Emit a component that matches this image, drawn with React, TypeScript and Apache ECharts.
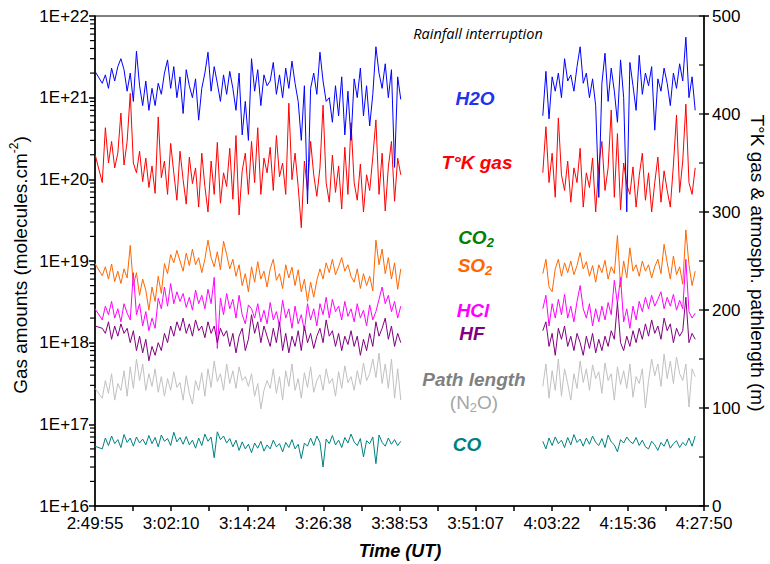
import { useEffect, useRef } from 'react';
import * as echarts from 'echarts';

// ---------- axis data ----------
const X_TICK_LABELS = ['2:49:55', '3:02:10', '3:14:24', '3:26:38', '3:38:53', '3:51:07', '4:03:22', '4:15:36', '4:27:50'];
const X_TICK_STEP = 734.375; // seconds between labelled ticks
const X_MAX = 5875; // seconds from 2:49:55 to 4:27:50
const LOG_DECADES = [16, 17, 18, 19, 20, 21];
const LOG_MINOR_MULTS = [2, 3, 4, 5, 6, 7, 8, 9];
const RIGHT_TICK_VALUES = [0, 50, 100, 150, 200, 250, 300, 350, 400, 450, 500];

// ---------- sampling (seconds after 2:49:55) ----------
const FIRST_T = 0;
const SEG1_T0 = 70;
const SEG2_T0 = 4320;
const SAMPLE_STEP = 30;
const GAP_T = 3600; // rainfall interruption

// ---------- H2O (x 1e21 molecules/cm2) ----------
const H2O_UNIT = 1e21;
const h2oFirst = 2.1;
const h2oSeg1 = [
  1.5, 1.9, 1.3, 2.3, 1.6, 2.4, 3.0, 2.2, 1.2, 2.0, 0.9, 3.7, 1.4, 0.8, 1.6, 0.7, 1.3, 0.8, 1.5, 1.1,
  2.0, 2.9, 1.3, 2.4, 1.0, 1.8, 0.64, 2.2, 1.4, 1.0, 1.7, 0.53, 1.3, 2.0, 3.6, 1.2, 2.4, 1.5, 0.9, 1.9,
  1.1, 2.1, 1.3, 0.7, 2.0, 0.35, 0.9, 0.3,
  3.0, 1.2, 2.2, 0.8, 1.9, 1.4,
  1.6, 2.7, 1.1, 1.9, 1.0, 2.3, 1.3, 2.8, 1.5, 0.9,
  0.3, 1.4, 0.05,
  1.3, 2.0, 1.1, 3.6, 1.6, 0.9,
  1.0, 0.5, 1.4, 0.6, 1.8, 0.35, 1.2, 0.3,
  1.7, 1.0, 2.3, 0.6, 1.4, 0.45, 1.1,
  4.2,
  2.0, 1.3, 2.6, 1.0, 2.2, 0.14, 1.8, 0.95,
];
const h2oSeg2 = [
  0.6, 2.1, 0.55,
  1.8, 1.2, 2.0, 1.0, 3.0, 1.6,
  1.9, 1.2, 2.4, 4.2, 1.5, 2.0,
  1.0, 1.7, 0.8, 0.06,
  1.5, 3.5, 0.9, 2.3, 1.2, 0.5, 2.9, 1.0, 0.04,
  2.7, 1.4, 0.7, 3.3, 1.1,
  2.0, 1.4, 2.4, 0.4, 1.7, 1.2, 2.3, 1.5, 0.8, 2.0, 1.3,
  2.6, 1.6, 5.5, 1.0, 1.8, 0.7,
];

// ---------- T°K gas (K, right axis) ----------
const tgasFirst = 359;
const tgasSeg1 = [
  330, 386, 350, 372, 345, 360, 401,
  348, 372, 421, 350,
  340, 362, 331, 355, 325, 347, 319, 397, 335,
  352, 318, 370, 340, 312, 362, 333, 308, 356, 329,
  345, 305, 360, 326, 300, 352, 318, 371, 309, 340,
  326, 365, 313, 378, 297, 342, 360, 318,
  372, 330, 386, 318, 355, 340,
  366, 322, 378, 336, 350, 318, 411, 333, 360, 326,
  284,
  352, 322, 372, 338, 316, 345, 409,
  330, 310, 358, 320, 347, 303, 366, 318, 391,
  330, 312, 349, 300, 338, 322, 356,
  394,
  318, 360, 301, 346, 372, 311, 355, 338,
];
const tgasSeg2 = [
  340, 387, 330, 360, 315, 396, 338, 322, 352, 310, 345, 330, 365, 305, 340, 325, 355, 300, 348,
  372, 322, 345, 404, 315, 380, 302, 350, 328,
  318, 346, 305, 337, 360, 312, 340, 300, 330, 356, 310, 342, 322, 305, 348,
  399, 320, 352, 410, 330, 318, 345,
];

// ---------- SO2 (x 1e18) ----------
const SO2_UNIT = 1e18;
const so2First = 9.3;
const so2Seg1 = [
  6.6, 8.5, 6.0, 9.2, 5.6, 7.5, 5.3, 8.0,
  6.2, 15.5,
  5.0, 7.2, 3.8, 6.0, 4.4, 2.5,
  4.8, 3.2, 6.5, 4.0,
  9.3, 7.0, 12.0, 9.5, 13.5,
  10.0, 7.5, 12.5, 8.8, 14.0, 9.0, 11.0, 7.2, 10.5,
  18.0, 11.0, 8.5, 13.0, 7.8, 17.5,
  12.0, 8.0, 10.5, 6.5, 9.0, 5.0, 7.0, 4.2,
  8.5, 5.5, 9.8, 6.0,
  7.5, 4.8, 8.0, 10.5, 5.8, 7.0, 4.6, 9.0, 6.2, 8.4, 5.0, 7.8,
  4.2, 6.0, 3.2, 5.5, 3.6, 5.8,
  8.0, 6.0, 9.5, 7.2, 10.5, 6.8, 8.5, 11.0, 7.5, 9.0, 6.5,
  5.5, 8.0, 4.6, 7.0, 5.0, 6.5, 4.3,
  18.0,
  9.0, 14.0, 7.0, 11.0, 6.0, 9.5, 4.5, 8.0,
];
const so2Seg2 = [
  7.0, 10.5, 4.8,
  4.2, 8.0, 10.5, 6.5, 9.5, 7.2, 10.0, 6.8, 8.8,
  12.7, 8.0,
  9.8, 6.5, 8.8, 5.5, 9.0, 7.2, 10.2,
  6.0, 8.5, 7.0,
  20.5,
  4.8, 10.0, 6.2,
  14.5, 7.5, 9.0,
  6.5, 10.0, 7.5, 9.0, 6.2, 8.5, 10.5, 7.0, 16.0,
  9.5, 6.0, 11.5, 6.8, 8.5, 5.2,
  24.0,
  9.0, 5.0, 7.5,
];

// ---------- HCl (x 1e18) ----------
const HCL_UNIT = 1e18;
const hclFirst = 2.6;
const hclSeg1 = [
  1.9, 2.8, 2.2, 3.2, 2.0, 2.6, 1.8, 3.0, 2.3, 1.9,
  7.2,
  2.2, 3.0, 1.6, 2.4, 1.4, 2.0, 1.5,
  3.5, 2.6, 4.8, 2.8, 5.3, 3.0, 4.2,
  3.2, 4.0, 2.7, 3.6, 2.5, 4.4, 3.0, 3.8, 2.6,
  4.5, 3.0, 6.3, 0.85, 3.5, 2.2,
  4.0, 2.6, 3.4, 2.0, 3.8, 2.2, 1.7, 2.9,
  2.6, 2.0, 3.0, 1.8, 2.5, 1.7,
  3.1, 1.9, 2.4, 1.6, 3.3, 2.0, 2.6, 1.5, 2.8, 1.7, 2.2, 1.4, 3.0, 1.9, 2.6, 1.6,
  3.0, 2.2, 3.6, 2.0, 3.4, 2.4, 2.8, 1.9, 3.2, 2.1, 2.6,
  1.8, 3.0, 2.0, 2.5, 1.6, 2.9, 1.9,
  2.4, 3.4, 4.8, 3.0, 3.8, 2.4, 3.2, 2.0, 2.8,
];
const hclSeg2 = [
  2.6, 3.8, 1.6, 3.0, 2.0, 3.4, 2.2, 3.9, 2.0, 2.8, 1.8, 3.2,
  5.0, 2.6,
  2.0, 3.0, 1.6, 2.6, 1.8, 2.8, 1.9, 3.1, 2.2,
  5.8, 3.0, 6.3,
  1.8, 2.6, 1.5, 2.8, 1.9, 3.2, 2.4, 3.6,
  2.6, 3.8, 2.8, 3.4, 4.2, 2.6, 3.6, 2.8, 3.9, 2.5, 3.3, 2.6,
  10.5,
  2.4, 2.0, 2.3,
];

// ---------- HF (x 1e18) ----------
const HF_UNIT = 1e18;
const hfFirst = 1.6;
const hfSeg1 = [
  1.5, 1.3, 1.8, 1.1, 1.6, 1.2, 1.7, 1.3, 1.5,
  1.0, 1.4, 0.8, 1.2, 0.75, 1.1, 0.6, 0.9, 0.7,
  1.0, 0.8, 1.3, 1.0, 1.6, 1.2, 1.8,
  1.4, 2.0, 1.3, 1.7, 1.2, 1.9, 1.4, 1.6, 1.15,
  1.8, 1.3, 1.6, 1.0, 1.5, 1.2,
  1.4, 0.9, 1.3, 0.75, 1.2, 1.5, 0.8, 1.1,
  2.2, 1.3, 1.8, 1.0, 1.6, 1.2,
  0.9, 1.5, 1.0, 1.8, 0.8, 1.3, 0.75, 1.2, 0.9, 1.4, 0.8, 1.6, 1.0, 1.3, 0.85, 1.2,
  1.5, 1.0, 1.9, 1.2, 1.4, 0.9, 1.3, 0.8, 1.2, 0.95, 1.4,
  0.9, 1.2, 0.7, 1.1, 0.8, 1.3, 0.9,
  1.8, 1.2, 1.5, 2.0, 1.1, 1.6, 0.9, 1.3, 1.0,
];
const hfSeg2 = [
  1.4, 1.8, 0.9, 1.3, 0.7, 1.5, 1.1, 1.6, 0.9, 1.2, 0.8, 1.3,
  1.0, 0.7, 1.2, 0.85, 1.3, 0.75, 1.1, 0.8, 1.2, 0.9, 1.4,
  1.1, 3.1, 1.0,
  0.8, 1.2, 0.9, 1.4, 1.0, 1.5, 1.1, 1.7,
  1.2, 1.9, 1.3, 1.6, 1.1, 2.0, 1.4, 1.7, 1.0, 1.5, 1.2, 1.4,
  3.6,
  1.0, 1.3, 1.1,
];

// ---------- Path length (m, right axis) ----------
const pathFirst = 120;
const pathSeg1 = [
  110, 128, 115, 135, 108, 125, 118, 138, 112,
  142, 120, 150, 128, 145, 118, 135, 122, 140,
  116, 132, 112, 130, 118, 137, 121,
  126, 108, 133, 115, 104, 128, 118, 136, 112,
  140, 121, 148, 127, 135, 118,
  145, 125, 138, 120, 142, 128, 132, 122,
  135, 112, 125, 99, 118, 128,
  120, 140, 115, 132, 108, 138, 122, 145, 118, 130, 110, 136, 121, 142, 116, 128,
  134, 118, 140, 125, 130, 112, 137, 120, 143, 126, 132,
  118, 138, 124, 146, 128, 135, 150,
  131, 156, 125, 145, 120, 150, 110, 140, 108,
];
const pathSeg2 = [
  122, 145, 110, 138, 118, 150, 112, 140, 125, 108, 135, 120,
  148, 126, 140, 118, 144, 130, 137, 115, 146, 128, 135,
  108, 142, 124,
  138, 120, 145, 111, 132, 125, 140, 100,
  128, 150, 133, 145, 122, 155, 130, 148, 125, 152, 135, 128,
  145,
  101, 140, 132,
];

// ---------- CO (x 1e16) ----------
const CO_UNIT = 1e16;
const coFirst = 5.4;
const coSeg1 = [
  5.0, 6.8, 5.5, 7.2, 5.8, 6.5, 5.2, 7.5, 6.0, 6.8, 5.4, 7.0, 5.9, 6.6, 5.6, 7.3,
  5.8, 6.9, 5.3, 7.4, 6.2, 6.7, 5.5, 8.0, 6.1, 6.9, 5.7, 7.1, 5.6, 6.4, 5.1, 6.8,
  5.5, 7.6, 6.2, 7.0, 3.9, 8.1, 6.5, 7.2, 5.9, 6.7, 5.3, 6.4, 4.8, 6.1, 5.0, 5.7,
  4.5, 5.9, 5.1, 6.2, 4.7, 5.6, 5.0, 6.4, 5.3, 5.8, 4.6, 6.0, 5.2, 6.5, 5.0, 5.7,
  3.8, 5.9, 5.4, 6.8, 5.5, 7.2, 6.0, 3.0, 6.6, 5.8, 7.3, 5.6, 6.4, 5.2, 6.9, 5.9,
  7.6, 6.1, 5.5, 6.7, 4.0, 6.3, 5.8, 7.0, 3.3, 7.4, 6.0, 5.4, 6.8, 5.7, 6.5, 5.5, 6.2,
];
const coSeg2 = [
  6.2, 5.0, 6.8, 5.5, 7.0, 5.8, 6.4, 5.2, 6.9, 5.6, 7.5, 6.0, 6.6, 5.4, 6.8, 5.7, 7.2,
  6.0, 5.5, 6.7, 5.2, 7.4, 6.1, 5.6, 4.6, 6.5, 5.9, 7.0, 6.2, 5.8, 6.9, 5.5, 6.4, 5.3,
  5.0, 6.2, 5.6, 4.8, 6.0, 5.4, 6.6, 5.1, 5.8, 6.3, 5.2, 6.0, 5.5, 6.8, 5.4, 7.2,
];

function buildSeries(first: number, seg1: number[], seg2: number[], unit: number) {
  const pts: any[] = [[FIRST_T, first * unit]];
  seg1.forEach((v, i) => pts.push([SEG1_T0 + i * SAMPLE_STEP, v * unit]));
  pts.push([GAP_T, '-']);
  seg2.forEach((v, i) => pts.push([SEG2_T0 + i * SAMPLE_STEP, v * unit]));
  return pts;
}

const FONT = "'Liberation Sans', Arial, sans-serif";
const BLACK = '#000';
const ANNOT_SIZE = 19;

function lineSeries(name: string, data: any[], color: string, yAxisIndex: number, z: number) {
  return {
    name,
    type: 'line',
    data,
    yAxisIndex,
    showSymbol: false,
    symbol: 'none',
    connectNulls: false,
    z,
    lineStyle: { color, width: 1 },
    itemStyle: { color },
    emphasis: { disabled: true },
  };
}

// short tick marks drawn at the axis edge through the axis scale
function tickSeries(values: number[], yAxisIndex: number, xAt: number, dx1: number, dx2: number) {
  return {
    type: 'custom',
    yAxisIndex,
    silent: true,
    clip: false,
    z: 10,
    data: values.map((v) => [xAt, v]),
    renderItem: (_params: any, api: any) => {
      const p = api.coord([api.value(0), api.value(1)]);
      return {
        type: 'line',
        shape: { x1: p[0] + dx1, y1: p[1], x2: p[0] + dx2, y2: p[1] },
        style: { stroke: BLACK, lineWidth: 1.2 },
      };
    },
  };
}

function textEl(x: number, y: number, text: string, fill: string, font: string) {
  return {
    type: 'text',
    x,
    y,
    style: { text, fill, font, align: 'center', verticalAlign: 'middle', textAlign: 'center', textVerticalAlign: 'middle' },
  };
}

function subText(x: number, y: number, main: string, sub: string, fill: string) {
  return {
    type: 'text',
    x,
    y,
    style: {
      text: `{m|${main}}{s|${sub}}`,
      align: 'center',
      verticalAlign: 'middle',
      textAlign: 'center',
      textVerticalAlign: 'middle',
      rich: {
        m: { fontFamily: FONT, fontStyle: 'italic', fontWeight: 'bold', fontSize: ANNOT_SIZE, lineHeight: 24, fill, verticalAlign: 'middle' },
        s: { fontFamily: FONT, fontStyle: 'italic', fontWeight: 'bold', fontSize: 13, lineHeight: 13, fill, verticalAlign: 'bottom' },
      },
    },
  };
}

export default function App() {
  const ref = useRef<HTMLDivElement>(null);

  useEffect(() => {
    if (!ref.current) return;
    const chart = echarts.init(ref.current, undefined, { renderer: 'svg' });

    const leftMinor: number[] = [];
    LOG_DECADES.forEach((d) => LOG_MINOR_MULTS.forEach((m) => leftMinor.push(Math.pow(10, d) * m)));

    const annotFont = `italic bold ${ANNOT_SIZE}px ${FONT}`;

    const option: any = {
      animation: false,
      backgroundColor: '#fff',
      grid: { left: 95, right: 66, top: 16, bottom: 58, show: true, borderColor: BLACK, borderWidth: 1, backgroundColor: 'transparent' },
      xAxis: {
        type: 'value',
        min: 0,
        max: X_MAX,
        interval: X_TICK_STEP,
        axisLine: { show: true, onZero: false, lineStyle: { color: BLACK, width: 1.5 } },
        axisTick: { show: true, inside: false, length: 5, lineStyle: { color: BLACK, width: 1.5 } },
        minorTick: { show: true, splitNumber: 2, length: 5, lineStyle: { color: BLACK, width: 1.5 } },
        axisLabel: {
          formatter: (v: number) => X_TICK_LABELS[Math.round(v / X_TICK_STEP)] ?? '',
          fontSize: 17, color: BLACK, fontFamily: FONT, margin: 9, hideOverlap: false, showMinLabel: true, showMaxLabel: true,
        },
        splitLine: { show: false },
      },
      yAxis: [
        {
          type: 'log', logBase: 10, min: 1e16, max: 1e22, position: 'left',
          axisLine: { show: true, onZero: false, lineStyle: { color: BLACK, width: 1.5 } },
          axisTick: { show: true, inside: false, length: 6, lineStyle: { color: BLACK, width: 1.5 } },
          axisLabel: { formatter: (v: number) => '1E+' + Math.round(Math.log10(v)), fontSize: 17, color: BLACK, fontFamily: FONT, margin: 6 },
          splitLine: { show: false },
        },
        {
          type: 'value', min: 0, max: 500, interval: 100, position: 'right',
          axisLine: { show: true, onZero: false, lineStyle: { color: BLACK, width: 1.5 } },
          axisTick: { show: true, inside: false, length: 5, lineStyle: { color: BLACK, width: 1.5 } },
          axisLabel: { fontSize: 17, color: BLACK, fontFamily: FONT, margin: 8 },
          splitLine: { show: false },
        },
      ],
      series: [
        lineSeries('T°K gas', buildSeries(tgasFirst, tgasSeg1, tgasSeg2, 1), '#ff0000', 1, 2),
        lineSeries('H2O', buildSeries(h2oFirst, h2oSeg1, h2oSeg2, H2O_UNIT), '#0000ff', 0, 3),
        lineSeries('SO2', buildSeries(so2First, so2Seg1, so2Seg2, SO2_UNIT), '#ff6600', 0, 2),
        lineSeries('HCl', buildSeries(hclFirst, hclSeg1, hclSeg2, HCL_UNIT), '#ff00ff', 0, 2),
        lineSeries('HF', buildSeries(hfFirst, hfSeg1, hfSeg2, HF_UNIT), '#800080', 0, 3),
        lineSeries('Path length', buildSeries(pathFirst, pathSeg1, pathSeg2, 1), '#c0c0c0', 1, 2),
        lineSeries('CO', buildSeries(coFirst, coSeg1, coSeg2, CO_UNIT), '#008080', 0, 2),
        tickSeries(leftMinor, 0, 0, -5, 0),
        tickSeries(RIGHT_TICK_VALUES, 1, X_MAX, -5, 0),
      ],
      graphic: [
        textEl(478, 33, 'Rainfall interruption', '#000', "italic 14.5px 'Open Sans', Lato, sans-serif"),
        textEl(475, 98, 'H2O', '#2233ee', annotFont),
        textEl(477, 162, 'T°K gas', '#ff0000', annotFont),
        subText(476, 237, 'CO', '2', '#008000'),
        subText(475, 265, 'SO', '2', '#ff6600'),
        textEl(473, 310, 'HCl', '#ff00ff', annotFont),
        textEl(472, 333, 'HF', '#800080', annotFont),
        textEl(474, 379, 'Path length', '#808080', annotFont),
        {
          type: 'text', x: 474, y: 402,
          style: {
            text: '{m|(N}{s|2}{m|O)}', align: 'center', verticalAlign: 'middle', textAlign: 'center', textVerticalAlign: 'middle',
            rich: {
              m: { fontFamily: FONT, fontSize: ANNOT_SIZE, lineHeight: 24, fill: '#a6a6a6', verticalAlign: 'middle' },
              s: { fontFamily: FONT, fontSize: 13, lineHeight: 13, fill: '#a6a6a6', verticalAlign: 'bottom' },
            },
          },
        },
        textEl(467, 444, 'CO', '#008080', annotFont),
        textEl(400, 551, 'Time (UT)', '#000', `italic bold 18px ${FONT}`),
        {
          type: 'text', x: 20, y: 265, rotation: Math.PI / 2,
          style: {
            text: '{m|Gas amounts (molecules.cm}{p|-2}{m|)}', align: 'center', verticalAlign: 'middle', textAlign: 'center', textVerticalAlign: 'middle',
            rich: {
              m: { fontFamily: FONT, fontSize: 19, lineHeight: 24, fill: '#000', verticalAlign: 'middle' },
              p: { fontFamily: FONT, fontSize: 12, lineHeight: 12, fill: '#000', verticalAlign: 'top' },
            },
          },
        },
        {
          type: 'text', x: 757, y: 263, rotation: -Math.PI / 2,
          style: { text: 'T°K gas & atmosph. pathlength (m)', fill: '#000', font: `19px ${FONT}`, align: 'center', verticalAlign: 'middle', textAlign: 'center', textVerticalAlign: 'middle' },
        },
      ],
    };

    chart.setOption(option);
    return () => chart.dispose();
  }, []);

  return <div ref={ref} style={{ position: 'absolute', left: 0, top: 0, width: 770, height: 564 }} />;
}
